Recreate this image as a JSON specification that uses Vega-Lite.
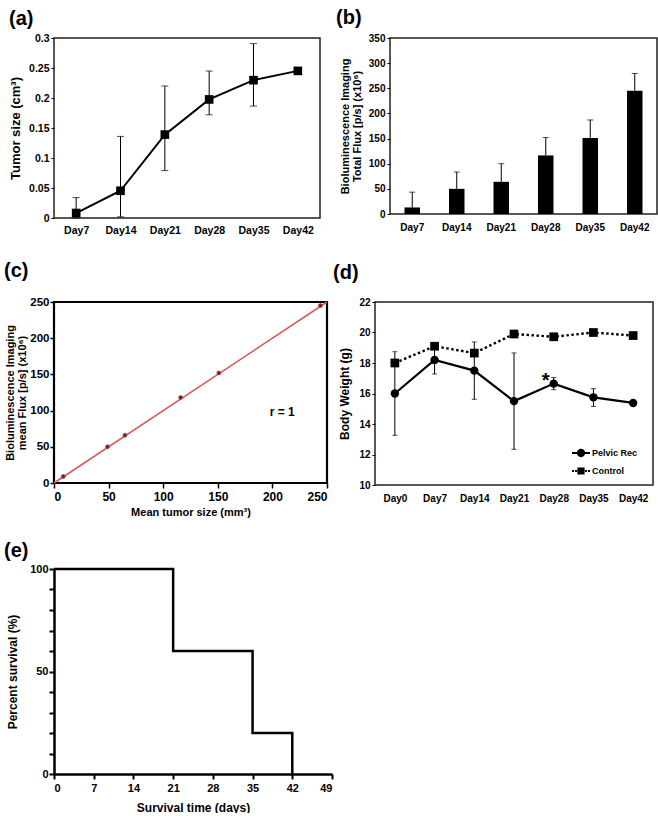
{
  "$schema": "https://vega.github.io/schema/vega-lite/v6.json",
  "padding": {"left": 2, "top": 7, "right": 0, "bottom": 0},
  "background": "white",
  "datasets": {
    "a": [
      {"day": "Day7", "mean": 0.0083, "lo": 0, "hi": 0.034},
      {"day": "Day14", "mean": 0.0454, "lo": 0.002, "hi": 0.136},
      {"day": "Day21", "mean": 0.139, "lo": 0.079, "hi": 0.22},
      {"day": "Day28", "mean": 0.1976, "lo": 0.172, "hi": 0.245},
      {"day": "Day35", "mean": 0.2297, "lo": 0.1865, "hi": 0.2906},
      {"day": "Day42", "mean": 0.2452, "lo": null, "hi": null}
    ],
    "b": [
      {"day": "Day7", "flux": 13, "hi": 43.5},
      {"day": "Day14", "flux": 50, "hi": 83.5},
      {"day": "Day21", "flux": 64, "hi": 100},
      {"day": "Day28", "flux": 116.5, "hi": 152},
      {"day": "Day35", "flux": 151, "hi": 187},
      {"day": "Day42", "flux": 245, "hi": 279.5}
    ],
    "c": [
      {"size": 8.5, "flux": 9},
      {"size": 49, "flux": 50},
      {"size": 65, "flux": 66},
      {"size": 116, "flux": 118},
      {"size": 151, "flux": 152},
      {"size": 244, "flux": 245}
    ],
    "cfit": [{"size": 0, "flux": 0}, {"size": 250, "flux": 250}],
    "clab": [{"size": 209, "flux": 98, "label": "r = 1"}],
    "d": [
      {"day": "Day0", "group": "Pelvic Rec", "w": 16.0, "lo": 13.26, "hi": 18.74},
      {"day": "Day7", "group": "Pelvic Rec", "w": 18.2, "lo": 17.28, "hi": 19.12},
      {"day": "Day14", "group": "Pelvic Rec", "w": 17.5, "lo": 15.62, "hi": 19.38},
      {"day": "Day21", "group": "Pelvic Rec", "w": 15.5, "lo": 12.34, "hi": 18.66},
      {"day": "Day28", "group": "Pelvic Rec", "w": 16.65, "lo": 16.25, "hi": 17.05},
      {"day": "Day35", "group": "Pelvic Rec", "w": 15.75, "lo": 15.15, "hi": 16.32},
      {"day": "Day42", "group": "Pelvic Rec", "w": 15.38, "lo": null, "hi": null},
      {"day": "Day0", "group": "Control", "w": 18.0, "lo": null, "hi": null},
      {"day": "Day7", "group": "Control", "w": 19.1, "lo": null, "hi": null},
      {"day": "Day14", "group": "Control", "w": 18.65, "lo": null, "hi": null},
      {"day": "Day21", "group": "Control", "w": 19.9, "lo": null, "hi": null},
      {"day": "Day28", "group": "Control", "w": 19.72, "lo": null, "hi": null},
      {"day": "Day35", "group": "Control", "w": 20.0, "lo": null, "hi": null},
      {"day": "Day42", "group": "Control", "w": 19.8, "lo": null, "hi": null}
    ],
    "dstar": [{"day": "Day28", "w": 17.1, "label": "*"}],
    "e": [
      {"t": 0, "s": 100},
      {"t": 21, "s": 60},
      {"t": 35, "s": 20},
      {"t": 42, "s": 0}
    ]
  },
  "columns": 1,
  "spacing": 22,
  "resolve": {"scale": {"opacity": "independent", "fill": "independent"}, "legend": {"opacity": "independent", "fill": "independent"}},
  "concat": [
    {
      "spacing": 14,
      "hconcat": [
        {
          "width": 266, "height": 180,
          "title": {"text": "(a)", "dx": -45, "offset": 4},
          "data": {"name": "a"},
          "encoding": {
            "x": {"field": "day", "type": "ordinal", "sort": null, "scale": {"type": "point", "padding": 0.5},
                  "axis": {"title": null, "labelAngle": 0, "ticks": false, "domain": false, "labelPadding": 7, "labelFontSize": 10.5}}
          },
          "layer": [
            {"mark": {"type": "rule", "color": "black", "strokeWidth": 1},
             "encoding": {"y": {"field": "lo", "type": "quantitative", "title": "Tumor size (cm³)", "scale": {"domain": [0, 0.3], "nice": false, "zero": false},
               "axis": {"values": [0, 0.05, 0.1, 0.15, 0.2, 0.25, 0.3], "format": "~g", "tickSize": 3, "labelPadding": 2, "labelOverlap": false,
                        "labelFontSize": 10.5, "titleFontSize": 13, "titlePadding": 6, "domain": false}}, "y2": {"field": "hi"}}},
            {"mark": {"type": "tick", "orient": "horizontal", "size": 7, "thickness": 1, "color": "black"},
             "encoding": {"y": {"field": "lo", "type": "quantitative", "title": "Tumor size (cm³)", "scale": {"domain": [0, 0.3], "nice": false, "zero": false},
               "axis": {"values": [0, 0.05, 0.1, 0.15, 0.2, 0.25, 0.3], "format": "~g", "tickSize": 3, "labelPadding": 2, "labelOverlap": false,
                        "labelFontSize": 10.5, "titleFontSize": 13, "titlePadding": 6, "domain": false}}}},
            {"mark": {"type": "tick", "orient": "horizontal", "size": 7, "thickness": 1, "color": "black"},
             "encoding": {"y": {"field": "hi", "type": "quantitative", "title": "Tumor size (cm³)", "scale": {"domain": [0, 0.3], "nice": false, "zero": false},
               "axis": {"values": [0, 0.05, 0.1, 0.15, 0.2, 0.25, 0.3], "format": "~g", "tickSize": 3, "labelPadding": 2, "labelOverlap": false,
                        "labelFontSize": 10.5, "titleFontSize": 13, "titlePadding": 6, "domain": false}}}},
            {"mark": {"type": "line", "color": "black", "strokeWidth": 2},
             "encoding": {"y": {"field": "mean", "type": "quantitative", "title": "Tumor size (cm³)", "scale": {"domain": [0, 0.3], "nice": false, "zero": false},
               "axis": {"values": [0, 0.05, 0.1, 0.15, 0.2, 0.25, 0.3], "format": "~g", "tickSize": 3, "labelPadding": 2, "labelOverlap": false,
                        "labelFontSize": 10.5, "titleFontSize": 13, "titlePadding": 6, "domain": false}}}},
            {"mark": {"type": "square", "size": 75, "color": "black", "opacity": 1},
             "encoding": {"y": {"field": "mean", "type": "quantitative", "title": "Tumor size (cm³)", "scale": {"domain": [0, 0.3], "nice": false, "zero": false},
               "axis": {"values": [0, 0.05, 0.1, 0.15, 0.2, 0.25, 0.3], "format": "~g", "tickSize": 3, "labelPadding": 2, "labelOverlap": false,
                        "labelFontSize": 10.5, "titleFontSize": 13, "titlePadding": 6, "domain": false}}}}
          ]
        },
        {
          "width": 267, "height": 176,
          "title": {"text": "(b)", "dx": -54, "offset": 5},
          "data": {"name": "b"},
          "encoding": {
            "x": {"field": "day", "type": "ordinal", "sort": null, "scale": {"type": "band", "paddingInner": 0, "paddingOuter": 0},
                  "axis": {"title": null, "labelAngle": 0, "ticks": false, "domain": false, "labelPadding": 8, "labelFontSize": 10}}
          },
          "layer": [
            {"mark": {"type": "rule", "color": "black", "strokeWidth": 1},
             "encoding": {"y": {"field": "flux", "type": "quantitative", "title": ["Bioluminescence Imaging", "Total Flux [p/s] (x10⁶)"],
               "scale": {"domain": [0, 350], "nice": false},
               "axis": {"values": [0, 50, 100, 150, 200, 250, 300, 350], "tickSize": 3, "labelPadding": 2, "labelOverlap": false,
                        "labelFontSize": 10, "titleFontSize": 11, "titleLineHeight": 12, "titlePadding": 6, "domain": false}}, "y2": {"field": "hi"}}},
            {"mark": {"type": "tick", "orient": "horizontal", "size": 6, "thickness": 1, "color": "black"},
             "encoding": {"y": {"field": "hi", "type": "quantitative", "title": ["Bioluminescence Imaging", "Total Flux [p/s] (x10⁶)"],
               "scale": {"domain": [0, 350], "nice": false},
               "axis": {"values": [0, 50, 100, 150, 200, 250, 300, 350], "tickSize": 3, "labelPadding": 2, "labelOverlap": false,
                        "labelFontSize": 10, "titleFontSize": 11, "titleLineHeight": 12, "titlePadding": 6, "domain": false}}}},
            {"mark": {"type": "bar", "color": "black", "size": 15.5},
             "encoding": {"y": {"field": "flux", "type": "quantitative", "title": ["Bioluminescence Imaging", "Total Flux [p/s] (x10⁶)"],
               "scale": {"domain": [0, 350], "nice": false},
               "axis": {"values": [0, 50, 100, 150, 200, 250, 300, 350], "tickSize": 3, "labelPadding": 2, "labelOverlap": false,
                        "labelFontSize": 10, "titleFontSize": 11, "titleLineHeight": 12, "titlePadding": 6, "domain": false}}}}
          ]
        }
      ]
    },
    {
      "spacing": 0,
      "resolve": {"scale": {"opacity": "independent", "fill": "independent"}, "legend": {"opacity": "independent", "fill": "independent"}},
      "hconcat": [
        {
          "width": 273, "height": 181,
          "view": {"stroke": "black", "strokeWidth": 2.2},
          "title": {"text": "(c)", "dx": -50, "offset": 15},
          "encoding": {
            "x": {"field": "size", "type": "quantitative", "title": "Mean tumor size (mm³)",
                  "scale": {"domain": [0, 250], "nice": false},
                  "axis": {"values": [0, 50, 100, 150, 200, 250], "tickSize": 5, "tickWidth": 1.5, "labelPadding": 3, "labelFontSize": 12, "labelOverlap": false,
                           "titleFontSize": 11, "titlePadding": 4, "domain": false}},
            "y": {"field": "flux", "type": "quantitative", "title": ["Bioluminescence Imaging", "mean Flux [p/s] (x10⁶)"],
                  "scale": {"domain": [0, 250], "nice": false},
                  "axis": {"values": [0, 50, 100, 150, 200, 250], "tickSize": 4, "tickWidth": 1.5, "labelPadding": 1, "labelFontSize": 11.5, "labelOverlap": false,
                           "titleFontSize": 11, "titleLineHeight": 12, "titlePadding": 2, "domain": false}}
          },
          "layer": [
            {"data": {"name": "cfit"},
             "mark": {"type": "line", "color": "#d4585a", "strokeWidth": 1.5}},
            {"data": {"name": "c"},
             "mark": {"type": "point", "filled": true, "size": 16, "color": "#5a2a2a", "stroke": "#c04848", "strokeWidth": 0.8, "opacity": 1}},
            {"data": {"name": "clab"},
             "mark": {"type": "text", "font": "Liberation Sans", "fontWeight": "bold", "fontSize": 12, "color": "black", "align": "center", "baseline": "middle"},
             "encoding": {"text": {"field": "label"}}}
          ]
        },
        {
          "width": 278, "height": 183,
          "title": {"text": "(d)", "dx": -42, "offset": 14},
          "encoding": {
            "x": {"field": "day", "type": "ordinal", "sort": ["Day0", "Day7", "Day14", "Day21", "Day28", "Day35", "Day42"],
                  "scale": {"type": "point", "padding": 0.5},
                  "axis": {"title": null, "labelAngle": 0, "ticks": false, "domain": false, "labelPadding": 8, "labelFontSize": 10}}
          },
          "layer": [
            {"data": {"name": "d"},
             "mark": {"type": "rule", "color": "black", "strokeWidth": 1},
             "encoding": {"y": {"field": "lo", "type": "quantitative", "title": "Body Weight (g)",
                     "scale": {"domain": [10, 22], "nice": false, "zero": false},
                     "axis": {"values": [10, 12, 14, 16, 18, 20, 22], "tickSize": 3, "labelPadding": 2, "labelFontSize": 10, "labelOverlap": false,
                              "titleFontSize": 12, "titlePadding": 7, "domain": false}}, "y2": {"field": "hi"}}},
            {"data": {"name": "d"},
             "mark": {"type": "tick", "orient": "horizontal", "size": 5, "thickness": 1, "color": "black"},
             "encoding": {"y": {"field": "lo", "type": "quantitative", "title": "Body Weight (g)",
                     "scale": {"domain": [10, 22], "nice": false, "zero": false},
                     "axis": {"values": [10, 12, 14, 16, 18, 20, 22], "tickSize": 3, "labelPadding": 2, "labelFontSize": 10, "labelOverlap": false,
                              "titleFontSize": 12, "titlePadding": 7, "domain": false}}}},
            {"data": {"name": "d"},
             "mark": {"type": "tick", "orient": "horizontal", "size": 5, "thickness": 1, "color": "black"},
             "encoding": {"y": {"field": "hi", "type": "quantitative", "title": "Body Weight (g)",
                     "scale": {"domain": [10, 22], "nice": false, "zero": false},
                     "axis": {"values": [10, 12, 14, 16, 18, 20, 22], "tickSize": 3, "labelPadding": 2, "labelFontSize": 10, "labelOverlap": false,
                              "titleFontSize": 12, "titlePadding": 7, "domain": false}}}},
            {"data": {"name": "d"},
             "transform": [{"filter": "datum.group === 'Pelvic Rec'"}],
             "mark": {"type": "line", "color": "black", "strokeWidth": 2.2},
             "encoding": {"y": {"field": "w", "type": "quantitative", "title": "Body Weight (g)",
                     "scale": {"domain": [10, 22], "nice": false, "zero": false},
                     "axis": {"values": [10, 12, 14, 16, 18, 20, 22], "tickSize": 3, "labelPadding": 2, "labelFontSize": 10, "labelOverlap": false,
                              "titleFontSize": 12, "titlePadding": 7, "domain": false}}}},
            {"data": {"name": "d"},
             "transform": [{"filter": "datum.group === 'Control'"}],
             "mark": {"type": "line", "color": "black", "strokeWidth": 2.4, "strokeDash": [2.5, 2.5]},
             "encoding": {"y": {"field": "w", "type": "quantitative", "title": "Body Weight (g)",
                     "scale": {"domain": [10, 22], "nice": false, "zero": false},
                     "axis": {"values": [10, 12, 14, 16, 18, 20, 22], "tickSize": 3, "labelPadding": 2, "labelFontSize": 10, "labelOverlap": false,
                              "titleFontSize": 12, "titlePadding": 7, "domain": false}}}},
            {"data": {"name": "d"},
             "transform": [{"filter": "datum.group === 'Pelvic Rec'"}],
             "mark": {"type": "point", "shape": "circle", "filled": true, "size": 70, "color": "black"},
             "encoding": {
               "y": {"field": "w", "type": "quantitative", "title": "Body Weight (g)",
                     "scale": {"domain": [10, 22], "nice": false, "zero": false},
                     "axis": {"values": [10, 12, 14, 16, 18, 20, 22], "tickSize": 3, "labelPadding": 2, "labelFontSize": 10, "labelOverlap": false,
                              "titleFontSize": 12, "titlePadding": 7, "domain": false}},
               "opacity": {"field": "group", "type": "nominal", "scale": {"domain": ["Pelvic Rec"], "range": [1]},
                           "legend": {"title": null, "orient": "none", "legendX": 197, "legendY": 142, "padding": 0,
                                      "symbolType": "M-1,-0.11H1V0.11H-1ZM-0.46,0A0.46,0.46,0,1,1,0.46,0A0.46,0.46,0,1,1,-0.46,0Z",
                                      "symbolSize": 324, "symbolFillColor": "black", "symbolStrokeWidth": 0, "symbolOpacity": 1,
                                      "labelFont": "Liberation Sans", "labelFontWeight": "bold", "labelFontSize": 9, "labelColor": "black", "labelOffset": 2}}
             }},
            {"data": {"name": "d"},
             "transform": [{"filter": "datum.group === 'Control'"}],
             "mark": {"type": "point", "shape": "square", "filled": true, "size": 76, "opacity": 1},
             "encoding": {
               "y": {"field": "w", "type": "quantitative", "title": "Body Weight (g)",
                     "scale": {"domain": [10, 22], "nice": false, "zero": false},
                     "axis": {"values": [10, 12, 14, 16, 18, 20, 22], "tickSize": 3, "labelPadding": 2, "labelFontSize": 10, "labelOverlap": false,
                              "titleFontSize": 12, "titlePadding": 7, "domain": false}},
               "fill": {"field": "group", "type": "nominal", "scale": {"domain": ["Control"], "range": ["black"]},
                           "legend": {"title": null, "orient": "none", "legendX": 197, "legendY": 160, "padding": 0,
                                      "symbolType": "M-1,-0.12H-0.78V0.12H-1ZM-0.66,-0.12H-0.44V0.12H-0.66ZM-0.4,-0.4H0.4V0.4H-0.4ZM0.44,-0.12H0.66V0.12H0.44ZM0.78,-0.12H1V0.12H0.78Z",
                                      "symbolSize": 324, "symbolFillColor": "black", "symbolStrokeWidth": 0, "symbolOpacity": 1,
                                      "labelFont": "Liberation Sans", "labelFontWeight": "bold", "labelFontSize": 9, "labelColor": "black", "labelOffset": 2}}
             }},
            {"data": {"name": "dstar"},
             "mark": {"type": "text", "font": "Liberation Sans", "fontWeight": "bold", "fontSize": 20, "color": "black", "dx": -8, "dy": 4, "baseline": "middle", "align": "center"},
             "encoding": {
               "y": {"field": "w", "type": "quantitative", "title": "Body Weight (g)",
                     "scale": {"domain": [10, 22], "nice": false, "zero": false},
                     "axis": {"values": [10, 12, 14, 16, 18, 20, 22], "tickSize": 3, "labelPadding": 2, "labelFontSize": 10, "labelOverlap": false,
                              "titleFontSize": 12, "titlePadding": 7, "domain": false}},
               "text": {"field": "label"}
             }}
          ]
        }
      ]
    },
    {
      "width": 278, "height": 205,
      "view": {"stroke": null},
      "title": {"text": "(e)", "dx": -50, "offset": 2},
      "data": {"name": "e"},
      "mark": {"type": "line", "interpolate": "step-after", "color": "black", "strokeWidth": 2.5},
      "encoding": {
        "x": {"field": "t", "type": "quantitative", "title": "Survival time (days)",
              "scale": {"domain": [0, 49], "nice": false},
              "axis": {"values": [0, 7, 14, 21, 28, 35, 42, 49], "tickSize": 5, "tickWidth": 2, "domainWidth": 2.5,
                       "labelPadding": 3, "labelFontSize": 11, "titleFontSize": 12, "titlePadding": 9}},
        "y": {"field": "s", "type": "quantitative", "title": "Percent survival (%)",
              "scale": {"domain": [0, 100], "nice": false},
              "axis": {"values": [0, 10, 20, 30, 40, 50, 60, 70, 80, 90, 100],
                       "labelExpr": "datum.value % 50 === 0 ? datum.label : ''",
                       "tickSize": 5, "tickWidth": 2, "domainWidth": 2.5, "labelPadding": 1, "labelFontSize": 11,
                       "titleFontSize": 12, "titlePadding": 10}}
      }
    }
  ],
  "config": {
    "font": "Liberation Sans",
    "view": {"stroke": "#222", "strokeWidth": 1.5},
    "axis": {"labelFont": "Liberation Sans", "labelFontWeight": "bold", "labelColor": "black",
             "titleFont": "Liberation Sans", "titleFontWeight": "bold", "titleColor": "black",
             "grid": false, "domainColor": "black", "tickColor": "black"},
    "title": {"font": "Liberation Sans", "fontSize": 20, "fontWeight": "bold", "anchor": "start", "frame": "group", "color": "black", "baseline": "bottom"}
  }
}
